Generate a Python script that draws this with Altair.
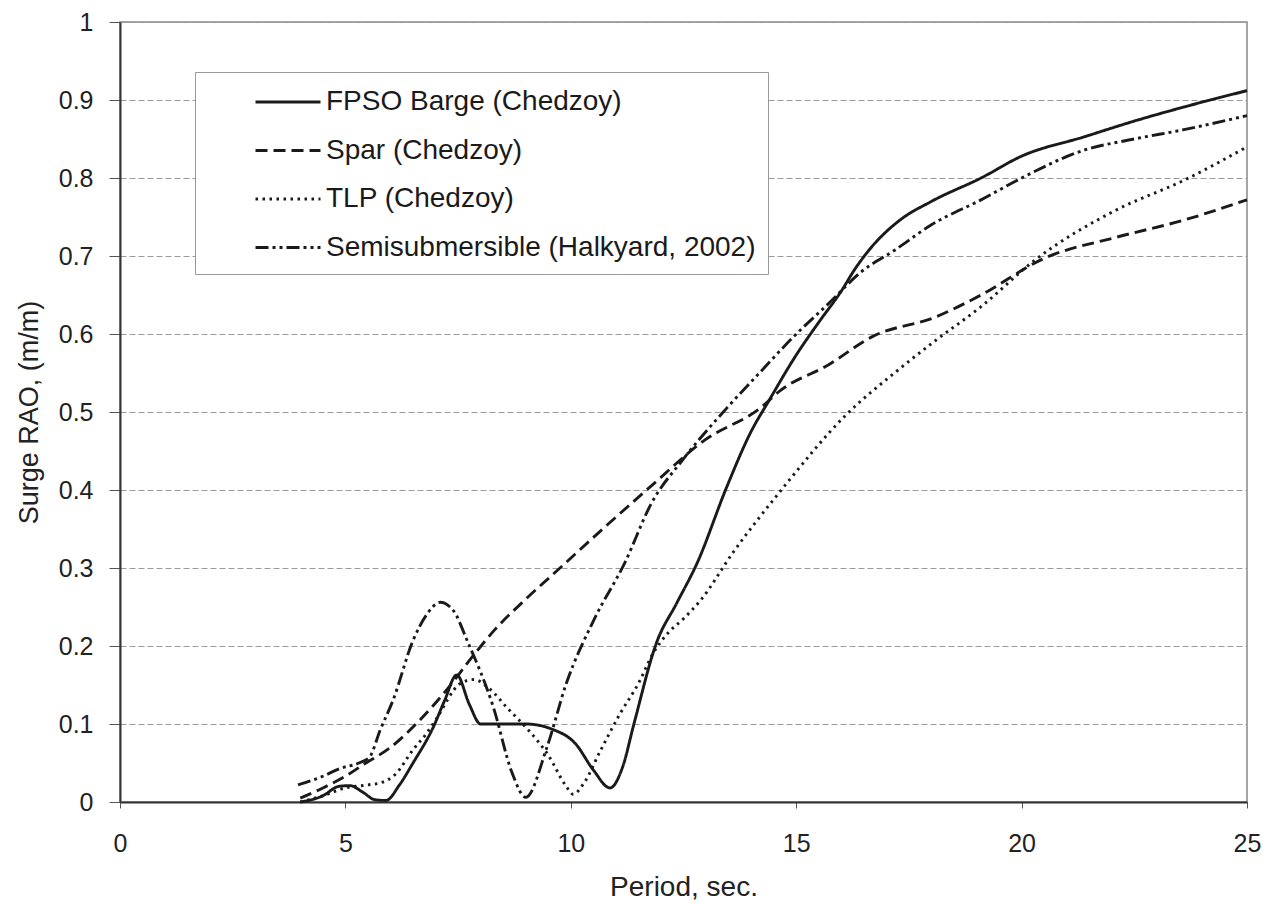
import altair as alt
import pandas as pd

SERIES = ["FPSO Barge (Chedzoy)", "Spar (Chedzoy)", "TLP (Chedzoy)",
          "Semisubmersible (Halkyard, 2002)"]

fpso_x = [4.0, 4.5, 4.85, 5.1, 5.4, 5.65, 5.9, 6.2, 6.5, 6.95, 7.2, 7.47, 7.75,
          8.0, 8.5, 9.0, 9.6, 10.1, 10.5, 10.87, 11.15, 11.4, 11.9, 12.35, 12.8,
          13.46, 14.0, 14.4, 15.0, 15.5, 16.0, 16.3, 16.65, 17.3, 18.0, 19.1,
          20.0, 21.4, 22.5, 23.6, 25.0]
fpso_y = [0.0, 0.008, 0.02, 0.021, 0.012, 0.003, 0.002, 0.022, 0.05, 0.096, 0.13,
          0.163, 0.125, 0.1, 0.1, 0.1, 0.093, 0.075, 0.041, 0.018, 0.045, 0.1,
          0.204, 0.255, 0.306, 0.404, 0.475, 0.515, 0.573, 0.615, 0.655, 0.683,
          0.71, 0.746, 0.77, 0.80, 0.828, 0.853, 0.873, 0.891, 0.912]

spar_x = [4.0, 4.5, 5.0, 5.4, 6.0, 6.65, 7.25, 7.8, 8.3, 9.0, 9.76, 10.65, 11.78,
          12.97, 14.2, 14.66, 15.7, 16.7, 18.1, 19.1, 20.5, 22.1, 23.6, 25.0]
spar_y = [0.005, 0.018, 0.033, 0.048, 0.07, 0.105, 0.144, 0.185, 0.22, 0.26, 0.30,
          0.347, 0.405, 0.464, 0.505, 0.528, 0.56, 0.597, 0.622, 0.65, 0.697,
          0.724, 0.746, 0.772]

tlp_x = [4.0, 4.5, 5.0, 5.5, 5.8, 6.1, 6.5, 6.8, 7.0, 7.55, 7.85, 8.2, 8.6, 9.0,
         9.5, 9.9, 10.05, 10.3, 10.65, 11.1, 11.5, 11.82, 12.13, 12.5, 12.87,
         13.6, 14.67, 16.1, 17.2, 18.1, 19.1, 20.3, 22.1, 23.6, 25.0]
tlp_y = [0.0, 0.008, 0.018, 0.022, 0.025, 0.035, 0.067, 0.088, 0.105, 0.152,
         0.157, 0.145, 0.12, 0.096, 0.06, 0.02, 0.01, 0.025, 0.065, 0.114, 0.152,
         0.19, 0.215, 0.235, 0.258, 0.32, 0.40, 0.496, 0.551, 0.592, 0.635,
         0.695, 0.759, 0.797, 0.84]

semi_x = [3.95, 4.5, 4.88, 5.3, 5.54, 5.77, 6.06, 6.5, 6.8, 7.1, 7.4, 7.7, 8.28,
          8.7, 9.0, 9.47, 9.9, 10.5, 11.2, 11.78, 12.5, 13.46, 14.2, 14.95, 15.7,
          16.45, 17.2, 18.0, 19.1, 20.0, 21.4, 22.5, 23.6, 25.0]
semi_y = [0.022, 0.033, 0.043, 0.05, 0.058, 0.092, 0.131, 0.207, 0.24, 0.256,
          0.245, 0.207, 0.122, 0.037, 0.006, 0.07, 0.152, 0.232, 0.307, 0.382,
          0.44, 0.505, 0.551, 0.597, 0.638, 0.68, 0.708, 0.74, 0.772, 0.80,
          0.836, 0.85, 0.862, 0.88]

DASHES = [[1, 0], [12, 6], [2.5, 4.5], [13, 4, 3, 4, 3, 4]]

rows = []
for name, xs, ys in zip(SERIES, [fpso_x, spar_x, tlp_x, semi_x],
                        [fpso_y, spar_y, tlp_y, semi_y]):
    for i, (a, b) in enumerate(zip(xs, ys)):
        rows.append({"series": name, "period": a, "rao": b, "i": i})
df = pd.DataFrame(rows)

FONT = "Liberation Sans"
INK = "#1a1a1a"

chart = alt.Chart(df).mark_line(
    color=INK, strokeWidth=2.9, interpolate="monotone"
).encode(
    x=alt.X("period:Q", title="Period, sec.",
            scale=alt.Scale(domain=[0, 25], nice=False),
            axis=alt.Axis(values=[0, 5, 10, 15, 20, 25], grid=False,
                          tickSize=6, labelPadding=23, titlePadding=17,
                          labelFontSize=25, titleFontSize=28, labelFlush=False,
                          domainColor="#333333", tickColor="#555555")),
    y=alt.Y("rao:Q", title="Surge RAO, (m/m)",
            scale=alt.Scale(domain=[0, 1], nice=False),
            axis=alt.Axis(values=[0, 0.1, 0.2, 0.3, 0.4, 0.5, 0.6, 0.7, 0.8, 0.9, 1],
                          labelExpr="datum.value == 0 ? '0' : datum.value == 1 ? '1' : format(datum.value, '.1f')",
                          tickSize=11, labelPadding=16, titlePadding=15,
                          labelFontSize=25, titleFontSize=27, labelFlush=False,
                          grid=True, gridColor="#9a9a9a", gridDash=[6, 3],
                          gridWidth=1.2, domainColor="#333333", tickColor="#555555")),
    strokeDash=alt.StrokeDash(
        "series:N", title=None,
        scale=alt.Scale(domain=SERIES, range=DASHES),
        legend=alt.Legend(orient="none", legendX=75, legendY=50,
                          symbolType="M-2,0H2", symbolSize=1056,
                          symbolStrokeWidth=2.9, symbolStrokeColor=INK,
                          symbolOffset=63, labelOffset=20,
                          labelFontSize=28, labelFont=FONT, labelColor=INK,
                          padding=12, rowPadding=16.5, fillColor="white",
                          strokeColor="#999999", labelLimit=600)),
    order="i:Q",
).properties(
    width=1127, height=780,
    background="white",
    autosize=alt.AutoSizeParams(type="none"),
    padding={"left": 120, "top": 22, "right": 21, "bottom": 103},
).configure_view(
    stroke="#888888", strokeWidth=1.5
).configure_axis(
    labelFont=FONT, titleFont=FONT,
    labelColor="#222222", titleColor="#222222", titleFontWeight="normal",
    domainWidth=2
)

chart.save("out.html", embed_options={"renderer": "svg", "actions": False})
